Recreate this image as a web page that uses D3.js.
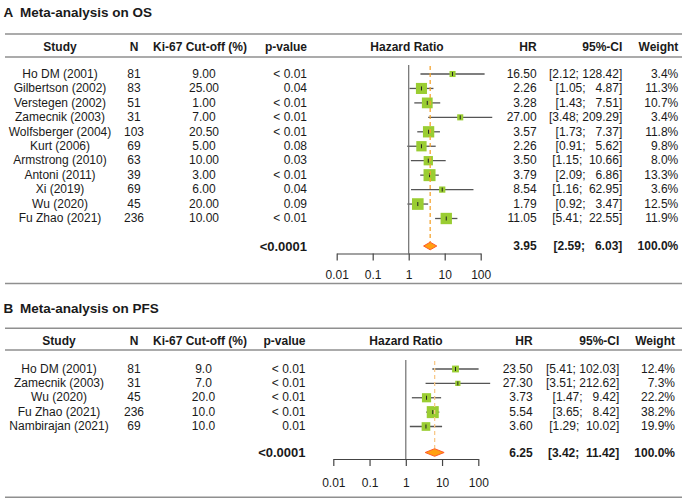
<!DOCTYPE html>
<html><head><meta charset="utf-8">
<script src="https://cdn.jsdelivr.net/npm/d3@7"></script>
<style>
body{margin:0;background:#fff}
svg{display:block}
text{font-family:"Liberation Sans",Arial,Helvetica,sans-serif;fill:#1a1a1a;white-space:pre}
</style>
</head><body>
<svg id="chart" width="685" height="501"></svg>
<script>
// ---------- DATA: Meta-analysis on OS ----------
const studiesOS = ["Ho DM (2001)","Gilbertson (2002)","Verstegen (2002)","Zamecnik (2003)","Wolfsberger (2004)","Kurt (2006)","Armstrong (2010)","Antoni (2011)","Xi (2019)","Wu (2020)","Fu Zhao (2021)"];
const nOS = [81,83,51,31,103,69,63,39,69,45,236];
const cutoffOS = ["9.00","25.00","1.00","7.00","20.50","5.00","10.00","3.00","6.00","20.00","10.00"];
const pOS = ["< 0.01","0.04","< 0.01","< 0.01","< 0.01","0.08","0.03","< 0.01","0.04","0.09","< 0.01"];
const hrOS = [16.50,2.26,3.28,27.00,3.57,2.26,3.50,3.79,8.54,1.79,11.05];
const lowerOS = [2.12,1.05,1.43,3.48,1.73,0.91,1.15,2.09,1.16,0.92,5.41];
const upperOS = [128.42,4.87,7.51,209.29,7.37,5.62,10.66,6.86,62.95,3.47,22.55];
const weightOS = [3.4,11.3,10.7,3.4,11.8,9.8,8.0,13.3,3.6,12.5,11.9];
const summaryOS = [3.95,2.59,6.03];
const summaryPOS = "<0.0001";

// ---------- DATA: Meta-analysis on PFS ----------
const studiesPFS = ["Ho DM (2001)","Zamecnik (2003)","Wu (2020)","Fu Zhao (2021)","Nambirajan (2021)"];
const nPFS = [81,31,45,236,69];
const cutoffPFS = ["9.0","7.0","20.0","10.0","10.0"];
const pPFS = ["< 0.01","< 0.01","< 0.01","< 0.01","0.01"];
const hrPFS = [23.50,27.30,3.73,5.54,3.60];
const lowerPFS = [5.41,3.51,1.47,3.65,1.29];
const upperPFS = [102.03,212.62,9.42,8.42,10.02];
const weightPFS = [12.4,7.3,22.2,38.2,19.9];
const summaryPFS = [6.25,3.42,11.42];
const summaryPPFS = "<0.0001";

const axisTicks = [0.01,0.1,1,10,100];
const tickLabels = ["0.01","0.1","1","10","100"];
const headers = ["Study","N","Ki-67 Cut-off (%)","p-value","Hazard Ratio","HR","95%-CI","Weight"];

const svg = d3.select("#chart");

function ciText(lo, up){
  return "[" + lo.toFixed(2) + "; " + up.toFixed(2).padStart(6," ") + "]";
}

function drawPanel(cfg){
  const g = svg.append("g");
  const x = d3.scaleLog().domain([0.01,100]).range(cfg.xRange);
  const n = cfg.studies.length;
  const y = d3.scaleLinear().domain([0,n-1]).range(cfg.rowsY);
  const maxW = d3.max(cfg.weight);
  const side = d3.scaleSqrt().domain([0,maxW]).range([0,12]);
  const c = cfg.cols;
  const fs = 12;

  // title
  g.append("text").attr("x",3.5).attr("y",cfg.titleY).attr("dy","0.35em")
    .attr("font-size",13.5).attr("font-weight","bold").text(cfg.letter);
  g.append("text").attr("x",20).attr("y",cfg.titleY).attr("dy","0.35em")
    .attr("font-size",13.5).attr("font-weight","bold").text(cfg.title);

  // rules
  [cfg.topRule,cfg.headerRule,cfg.bottomRule].forEach(yy=>{
    g.append("line").attr("x1",5).attr("x2",682).attr("y1",yy).attr("y2",yy)
      .attr("stroke","#8f8f8f").attr("stroke-width",1.5);
  });

  // headers
  const hx = [c.study,c.n,c.cutHead,c.p,c.hrHead,c.hr,c.ci,c.w];
  const ha = ["middle","middle","middle","end","middle","end","end","end"];
  headers.forEach((h,i)=>{
    g.append("text").attr("x",hx[i]).attr("y",cfg.headerY).attr("dy","0.35em")
      .attr("text-anchor",ha[i]).attr("font-size",fs).attr("font-weight","bold").text(h);
  });

  // table rows
  const rows = g.selectAll("g.row").data(d3.range(n)).join("g").attr("class","row");
  const addCol = (xx, anchor, fn) => rows.append("text").attr("x",xx).attr("y",i=>y(i)).attr("dy","0.35em")
    .attr("text-anchor",anchor).attr("font-size",fs).text(fn);
  addCol(c.study,"middle",i=>cfg.studies[i]);
  addCol(c.n,"middle",i=>cfg.N[i]);
  addCol(c.cut,"middle",i=>cfg.cutoff[i]);
  addCol(c.p,"end",i=>cfg.p[i]);
  addCol(c.hr,"end",i=>cfg.hr[i].toFixed(2));
  addCol(c.ci,"end",i=>ciText(cfg.lower[i],cfg.upper[i]));
  addCol(c.w,"end",i=>cfg.weight[i].toFixed(1)+"%");

  // reference line at 1
  g.append("line").attr("x1",x(1)).attr("x2",x(1)).attr("y1",cfg.refTop).attr("y2",cfg.axisY)
    .attr("stroke","#6e6e6e").attr("stroke-width",1.2);
  // dashed summary line
  g.append("line").attr("x1",x(cfg.summary[0])).attr("x2",x(cfg.summary[0]))
    .attr("y1",cfg.refTop+1).attr("y2",cfg.summaryY-4)
    .attr("stroke",cfg.dashColor).attr("stroke-width",1.3).attr("stroke-dasharray","4,3");

  // CI lines
  rows.append("line").attr("x1",i=>x(cfg.lower[i])).attr("x2",i=>x(cfg.upper[i]))
    .attr("y1",i=>y(i)+0.5).attr("y2",i=>y(i)+0.5).attr("stroke","#555").attr("stroke-width",1.3);
  // squares
  rows.append("rect")
    .attr("x",i=>x(cfg.hr[i])-side(cfg.weight[i])/2)
    .attr("y",i=>y(i)+0.5-side(cfg.weight[i])/2)
    .attr("width",i=>side(cfg.weight[i])).attr("height",i=>side(cfg.weight[i]))
    .attr("fill","#9acd32");
  // point ticks
  rows.append("line").attr("x1",i=>x(cfg.hr[i])).attr("x2",i=>x(cfg.hr[i]))
    .attr("y1",i=>y(i)-1.5).attr("y2",i=>y(i)+2.5).attr("stroke","#222").attr("stroke-width",1);

  // summary row
  g.append("text").attr("x",c.p).attr("y",cfg.summaryY).attr("dy","0.35em").attr("text-anchor","end")
    .attr("font-size",13).attr("font-weight","bold").text(cfg.summaryP);
  g.append("text").attr("x",c.hr).attr("y",cfg.summaryY).attr("dy","0.35em").attr("text-anchor","end")
    .attr("font-size",fs).attr("font-weight","bold").text(cfg.summary[0].toFixed(2));
  g.append("text").attr("x",c.ci).attr("y",cfg.summaryY).attr("dy","0.35em").attr("text-anchor","end")
    .attr("font-size",fs).attr("font-weight","bold").text(ciText(cfg.summary[1],cfg.summary[2]));
  g.append("text").attr("x",c.w).attr("y",cfg.summaryY).attr("dy","0.35em").attr("text-anchor","end")
    .attr("font-size",fs).attr("font-weight","bold").text("100.0%");
  // diamond
  const sy = cfg.summaryY;
  const dpts = [[x(cfg.summary[1]),sy],[x(cfg.summary[0]),sy-3.8],[x(cfg.summary[2]),sy],[x(cfg.summary[0]),sy+3.8]];
  g.append("polygon").attr("points",dpts.map(p=>p.join(",")).join(" "))
    .attr("fill","#ffa010").attr("stroke","#ff5a28").attr("stroke-width",1);

  // axis
  const axis = d3.axisBottom(x).tickValues(axisTicks).tickFormat((d,i)=>tickLabels[i]).tickSize(7).tickSizeOuter(0);
  const ag = g.append("g").attr("transform",`translate(0,${cfg.axisY})`).call(axis);
  ag.select(".domain").attr("stroke","#444").attr("stroke-width",1.2);
  ag.selectAll(".tick line").attr("stroke","#444").attr("stroke-width",1.2);
  ag.selectAll(".tick text").attr("font-size",12).attr("font-family","Liberation Sans, Arial, sans-serif")
    .attr("fill","#1a1a1a").attr("y",cfg.tickLabelY-cfg.axisY).attr("dy","0.35em");
}

drawPanel({
  letter:"A", title:"Meta-analysis on OS",
  studies:studiesOS, N:nOS, cutoff:cutoffOS, p:pOS, hr:hrOS, lower:lowerOS, upper:upperOS, weight:weightOS,
  summary:summaryOS, summaryP:summaryPOS,
  titleY:12, topRule:34, headerY:46.5, headerRule:57, rowsY:[73.5,218], refTop:65,
  summaryY:246, axisY:253.5, tickLabelY:275, bottomRule:283.5,
  xRange:[336.7,480.7], dashColor:"#f5a531",
  cols:{study:60,n:134,cut:204,cutHead:200,p:307,hrHead:407,hr:536.7,ci:622.3,w:678.3}
});
drawPanel({
  letter:"B", title:"Meta-analysis on PFS",
  studies:studiesPFS, N:nPFS, cutoff:cutoffPFS, p:pPFS, hr:hrPFS, lower:lowerPFS, upper:upperPFS, weight:weightPFS,
  summary:summaryPFS, summaryP:summaryPPFS,
  titleY:308.3, topRule:328.3, headerY:341, headerRule:350, rowsY:[368.5,426], refTop:360,
  summaryY:452.5, axisY:459, tickLabelY:482.7, bottomRule:497.3,
  xRange:[333.3,478.3], dashColor:"#f8c98a",
  cols:{study:59,n:134,cut:203.5,cutHead:200,p:305.5,hrHead:406,hr:532.7,ci:619.3,w:675}
});
</script>
</body></html>
